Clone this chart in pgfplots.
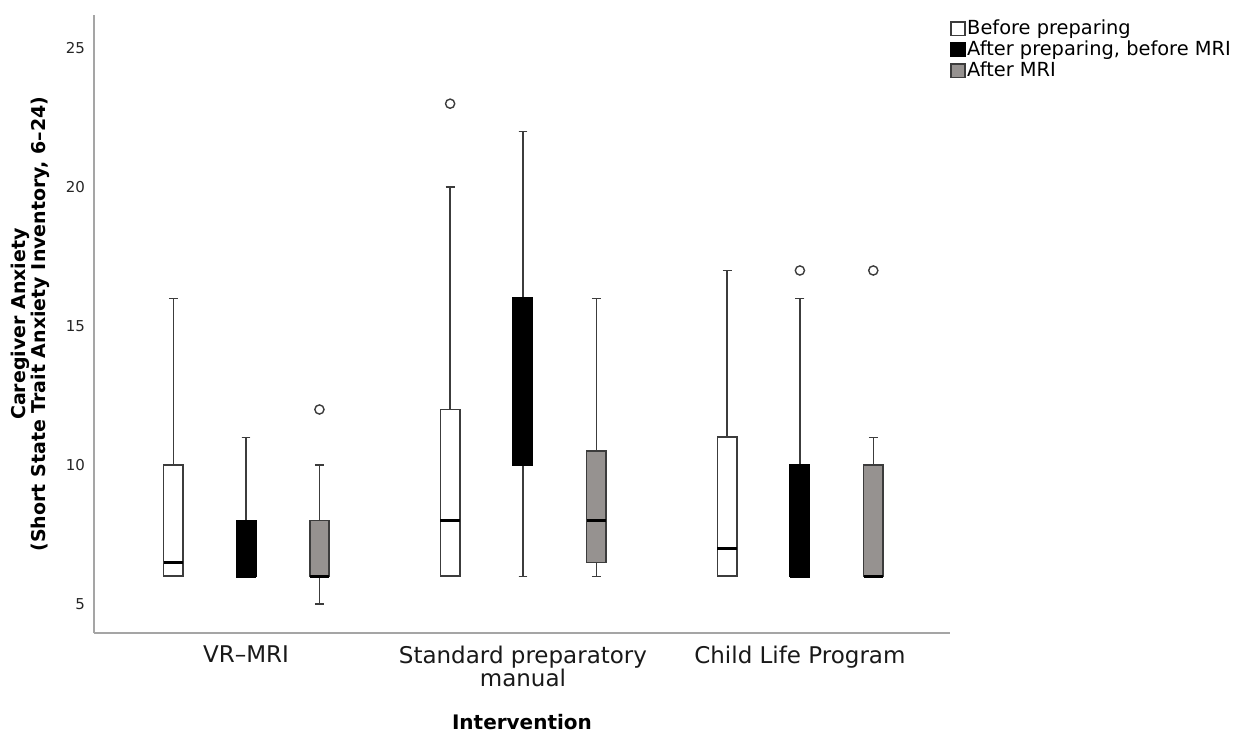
\documentclass[border=0pt]{standalone}
\usepackage{fontspec}
\setmainfont{DejaVu Sans}
\usepackage{pgfplots}
\pgfplotsset{compat=1.18}
\usepgfplotslibrary{statistics}
\definecolor{boxgray}{RGB}{150,146,144}
\definecolor{axgray}{RGB}{165,165,165}
\definecolor{linedark}{RGB}{60,60,60}
\begin{document}
\begin{tikzpicture}
\path[use as bounding box] (0,0) rectangle (616.5pt,368pt);
\begin{axis}[
  at={(47pt,51.5pt)}, anchor=south west,
  scale only axis, width=428pt, height=309pt,
  xmin=0.451, xmax=3.542, ymin=3.96, ymax=26.19,
  axis x line*=bottom, axis y line*=left,
  axis line style={-, draw=axgray, line width=1.1pt},
  xtick={1,2,3},
  xticklabels={VR–MRI, Standard preparatory\\manual, Child Life Program},
  ytick={5,10,15,20,25},
  major tick length=0pt,
  /pgf/number format/assume math mode=true,
  yticklabel style={font=\fontsize{7.5}{9}\selectfont, text=black!85, xshift=-1pt},
  xticklabel style={font=\fontsize{11.5}{11.5}\selectfont, align=center, anchor=north, yshift=-3pt, text=black!90},
  xlabel={Intervention},
  xlabel style={font=\bfseries\fontsize{10}{12}\selectfont, at={(axis description cs:0.5,-0.144)}, anchor=center},
  ylabel={Caregiver Anxiety\\(Short State Trait Anxiety Inventory, 6–24)},
  ylabel style={font=\bfseries\fontsize{9.5}{10}\selectfont, align=center, at={(axis description cs:-0.0748,0.5)}, anchor=center},
  legend cell align=left,
  legend style={at={(rel axis cs:1,1)}, anchor=north west, yshift=-1.5pt, draw=none, fill=none,
    font=\fontsize{9.7}{10.5}\selectfont, inner sep=0pt, row sep=0pt,
    nodes={inner sep=0.8pt}},
  legend image code/.code={\draw[#1, line width=0.8pt] (0pt,-3.4pt) rectangle (6.8pt,3.4pt);},
  boxplot/draw direction=y,
  boxplot/box extend=0.07,
  boxplot/whisker extend=0.032,
  boxplot/every box/.style={line width=0.8pt},
  boxplot/every median/.style={line width=1.5pt, draw=black},
  boxplot/every whisker/.style={draw=linedark, line width=0.65pt},
  mark=o, mark size=2.3pt,
  mark options={draw=linedark, fill=white, line width=0.7pt, solid},
]
\addlegendimage{fill=white, draw=linedark}
\addlegendentry{Before preparing}
\addlegendimage{fill=black, draw=black}
\addlegendentry{After preparing, before MRI}
\addlegendimage{fill=boxgray, draw=linedark}
\addlegendentry{After MRI}

% VR-MRI
\addplot[forget plot, fill=white, draw=linedark, boxplot prepared={draw position=0.737,
  lower whisker=6, lower quartile=6, median=6.5, upper quartile=10, upper whisker=16}] coordinates {};
\addplot[forget plot, fill=black, draw=black, boxplot prepared={draw position=1,
  lower whisker=6, lower quartile=6, median=6, upper quartile=8, upper whisker=11}] coordinates {};
\addplot[forget plot, fill=boxgray, draw=linedark, boxplot prepared={draw position=1.265,
  lower whisker=5, lower quartile=6, median=6, upper quartile=8, upper whisker=10}] coordinates {(0,12)};
% Standard preparatory manual
\addplot[forget plot, fill=white, draw=linedark, boxplot prepared={draw position=1.737,
  lower whisker=6, lower quartile=6, median=8, upper quartile=12, upper whisker=20}] coordinates {(0,23)};
\addplot[forget plot, fill=black, draw=black, boxplot prepared={draw position=2,
  lower whisker=6, lower quartile=10, median=13, upper quartile=16, upper whisker=22}] coordinates {};
\addplot[forget plot, fill=boxgray, draw=linedark, boxplot prepared={draw position=2.265,
  lower whisker=6, lower quartile=6.5, median=8, upper quartile=10.5, upper whisker=16}] coordinates {};
% Child Life Program
\addplot[forget plot, fill=white, draw=linedark, boxplot prepared={draw position=2.737,
  lower whisker=6, lower quartile=6, median=7, upper quartile=11, upper whisker=17}] coordinates {};
\addplot[forget plot, fill=black, draw=black, boxplot prepared={draw position=3,
  lower whisker=6, lower quartile=6, median=6, upper quartile=10, upper whisker=16}] coordinates {(0,17)};
\addplot[forget plot, fill=boxgray, draw=linedark, boxplot prepared={draw position=3.265,
  lower whisker=6, lower quartile=6, median=6, upper quartile=10, upper whisker=11}] coordinates {(0,17)};
\end{axis}
\end{tikzpicture}
\end{document}
